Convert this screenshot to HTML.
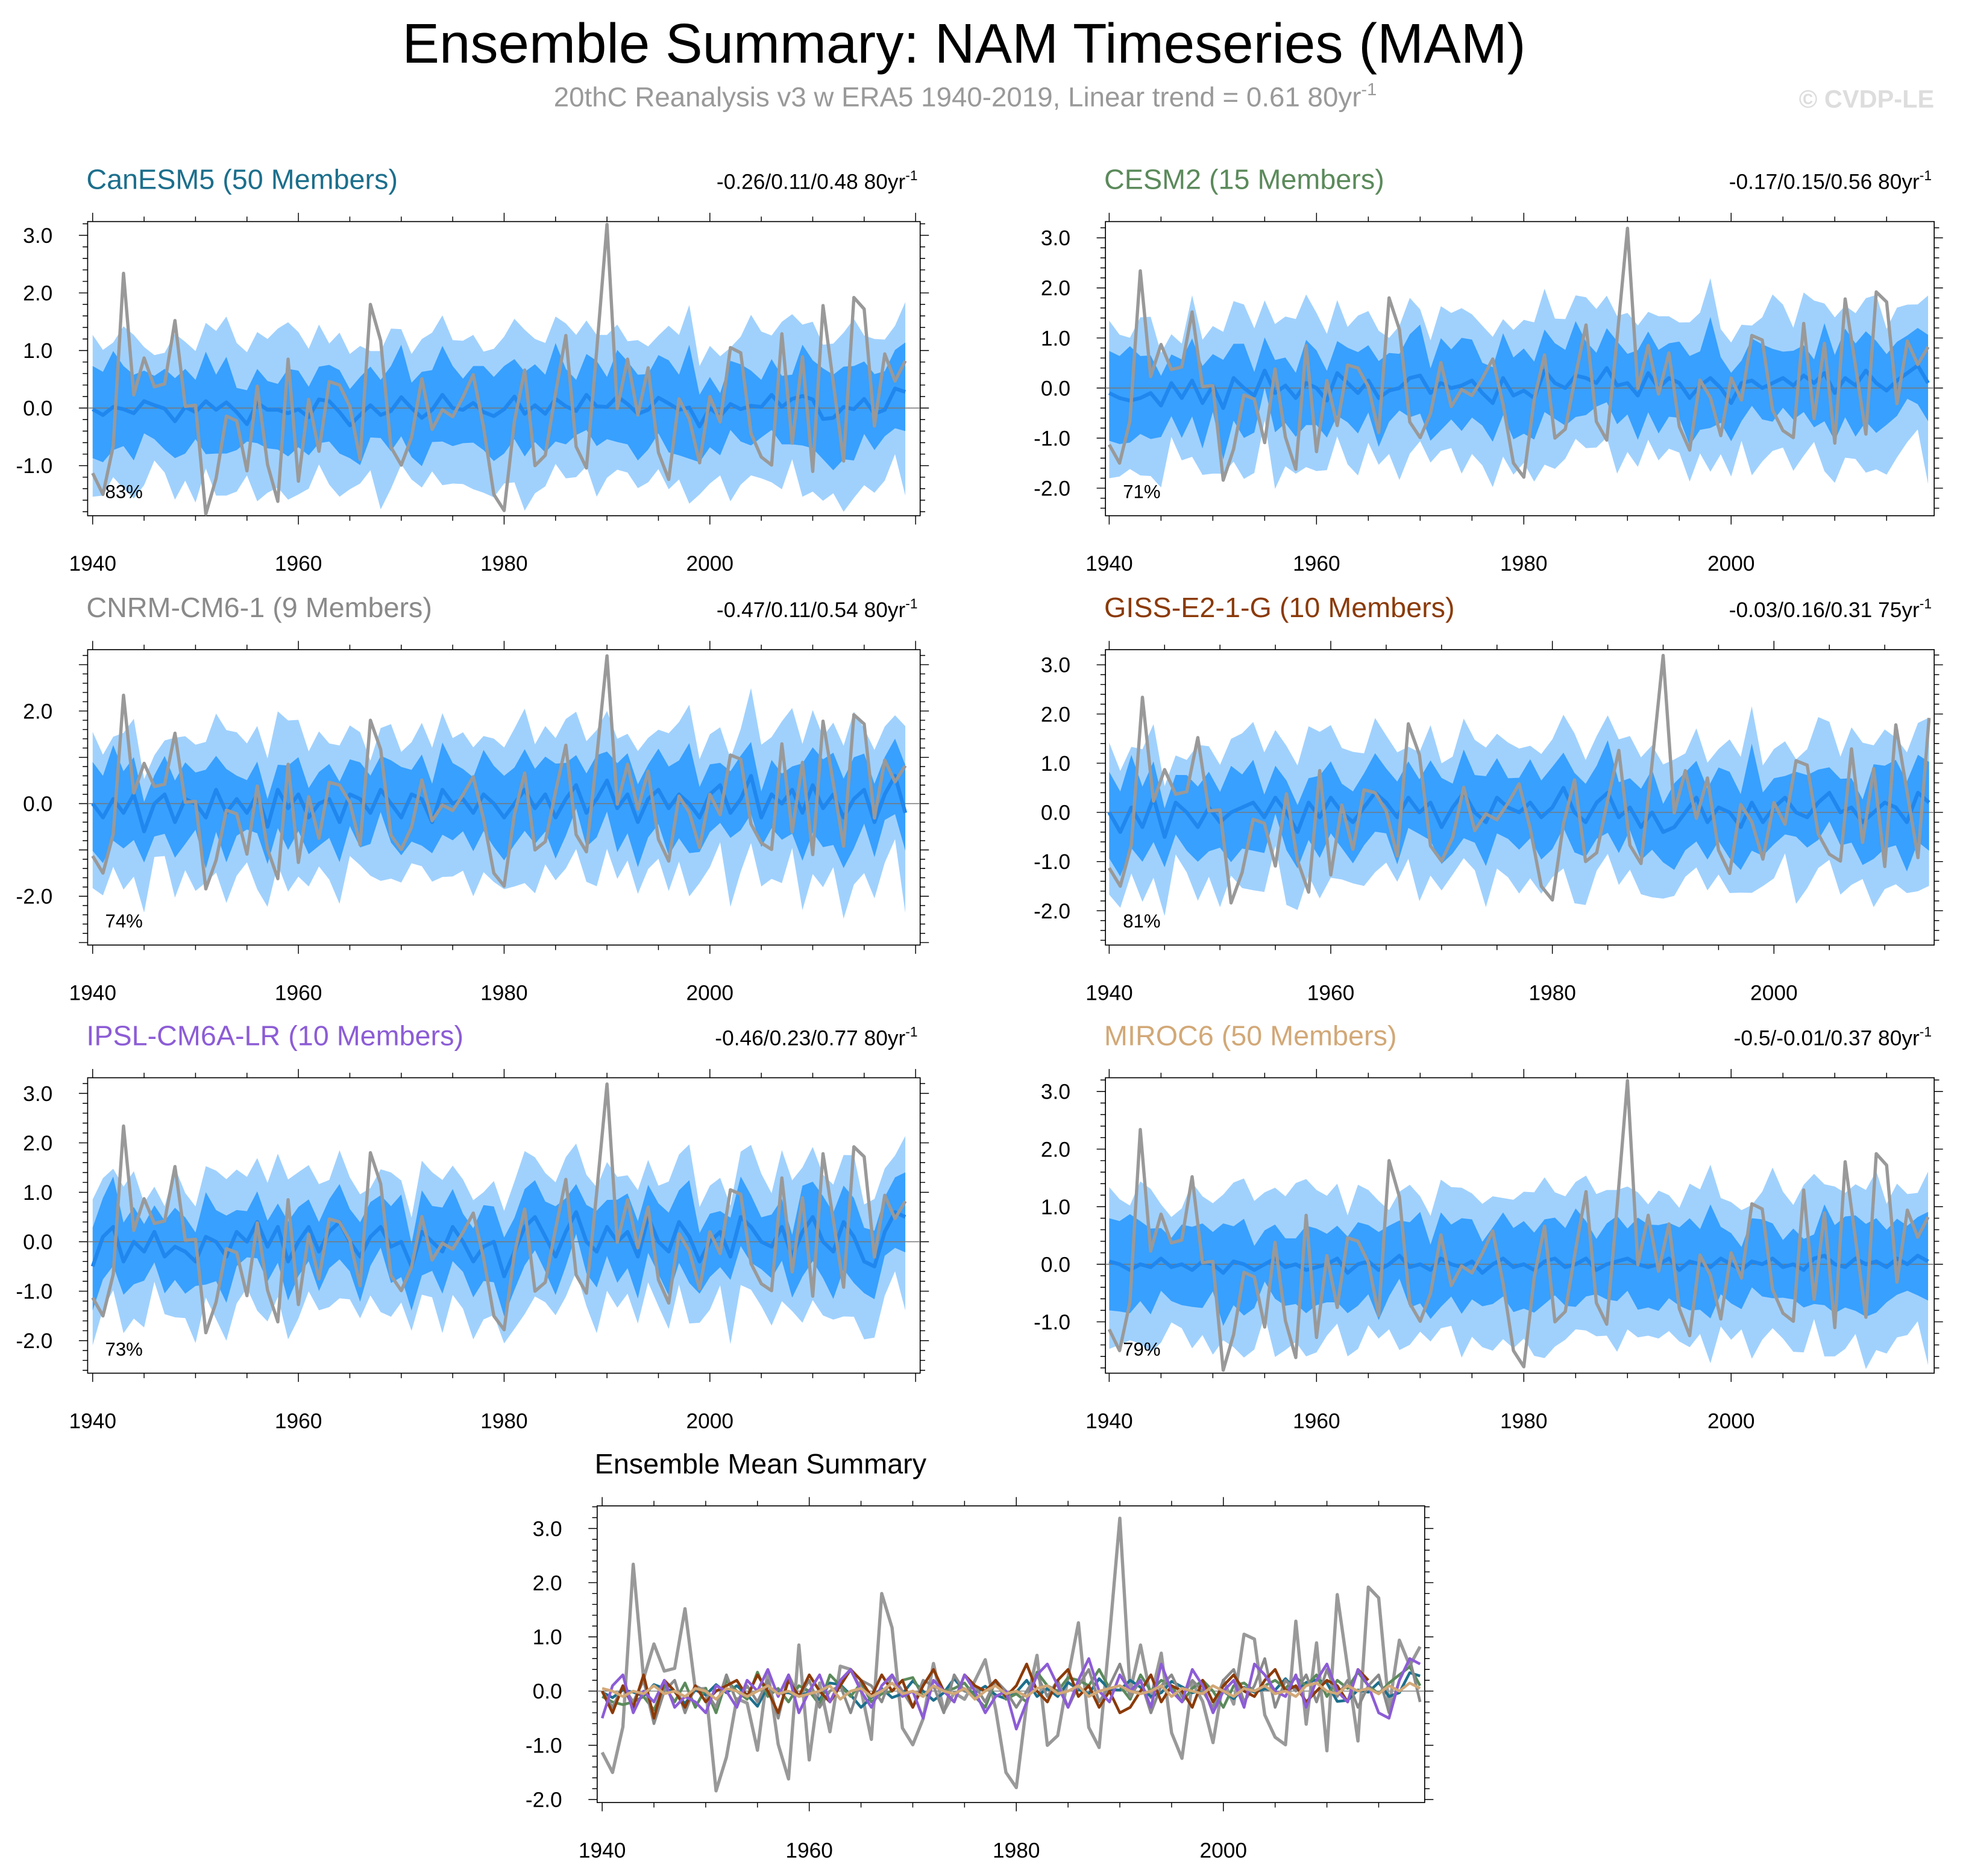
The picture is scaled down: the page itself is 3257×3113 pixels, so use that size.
<!DOCTYPE html>
<html><head><meta charset="utf-8">
<style>
html,body{margin:0;padding:0;background:#fff;}
svg{display:block;font-family:"Liberation Sans",sans-serif;}
</style></head>
<body>
<svg id="chart" width="3257" height="3113" viewBox="0 0 1568 1498.7" xmlns="http://www.w3.org/2000/svg">
<text x="770" y="50" font-size="44.5" text-anchor="middle" fill="#000">Ensemble Summary: NAM Timeseries (MAM)</text>
<text x="771" y="85" font-size="22" text-anchor="middle" fill="#999">20thC Reanalysis v3 w ERA5 1940-2019, Linear trend = 0.61 80yr<tspan dy="-9" font-size="14">-1</tspan></text>
<text x="1545" y="86" font-size="20" font-weight="bold" text-anchor="end" fill="#ddd">© CVDP-LE</text>
<text x="475" y="1177" font-size="22.5" fill="#000">Ensemble Mean Summary</text>
</svg>
<script>
const obs=[-1.13,-1.50,-0.66,2.34,0.23,0.87,0.37,0.42,1.52,0.03,0.05,-1.84,-1.22,-0.14,-0.22,-1.09,0.38,-0.98,-1.62,0.85,-1.27,0.15,-0.75,0.46,0.40,0.03,-0.89,1.80,1.17,-0.68,-0.99,-0.51,0.51,-0.37,-0.03,-0.15,0.19,0.58,-0.33,-1.50,-1.78,-0.23,0.66,-1.00,-0.82,0.26,1.26,-0.67,-1.04,1.0,3.19,-0.01,0.85,-0.12,0.70,-0.77,-1.24,0.16,-0.19,-0.95,0.20,-0.24,1.05,0.96,-0.44,-0.85,-0.99,1.29,-0.61,0.89,-1.10,1.78,0.44,-0.92,1.92,1.72,-0.31,0.94,0.47,0.82];
const canMean=[-0.02,-0.12,0.02,-0.02,-0.09,0.12,0.05,-0.01,-0.23,0.02,-0.07,0.12,-0.03,0.10,-0.07,-0.28,0.09,-0.03,-0.03,-0.09,-0.02,-0.16,0.15,0.12,-0.07,-0.30,-0.12,0.05,-0.12,-0.05,0.19,0.0,-0.17,-0.03,0.23,0.0,-0.03,0.09,-0.07,-0.14,-0.02,0.20,-0.10,0.05,-0.10,0.16,0.03,-0.05,0.23,0.03,0.02,0.20,0.07,-0.10,-0.03,0.18,0.08,-0.03,0.01,-0.32,0.0,-0.14,0.07,-0.02,0.04,0.02,0.23,0.02,0.16,0.21,0.15,-0.19,-0.17,0.02,-0.02,0.16,-0.10,-0.03,0.34,0.28];
const canLightUp=[1.27,1.01,1.14,1.42,1.27,1.06,0.92,0.96,1.29,1.15,0.99,1.48,1.34,1.59,1.13,0.97,1.32,1.20,1.38,1.49,1.32,1.03,1.45,1.12,1.31,0.94,1.08,0.99,0.99,1.38,1.37,0.94,1.20,1.31,1.61,1.18,1.17,1.27,0.98,1.03,1.24,1.55,1.36,1.20,1.13,1.59,1.47,1.27,1.52,1.27,1.27,1.45,1.16,1.18,1.07,1.26,1.43,1.27,1.79,0.73,1.08,0.90,1.05,1.24,1.62,1.33,1.26,1.50,1.63,1.45,1.50,1.10,1.12,1.31,1.55,1.26,1.20,1.19,1.43,1.84];
const canDarkUp=[0.73,0.63,0.99,0.73,0.58,0.65,0.56,0.68,0.52,0.68,0.49,0.98,0.58,0.89,0.35,0.31,0.68,0.47,0.42,0.68,0.65,0.37,0.72,0.75,0.66,0.33,0.54,0.72,0.49,0.73,1.10,0.44,0.63,0.66,1.08,0.73,0.51,0.73,0.73,0.54,0.73,0.85,0.63,0.76,0.58,1.13,0.68,0.49,0.94,0.82,0.54,1.01,0.81,0.58,0.59,0.92,0.83,0.58,1.10,0.23,0.54,0.26,0.82,0.76,0.65,0.49,0.85,0.56,0.58,1.10,0.83,0.69,0.58,0.72,0.73,0.81,0.59,0.64,1.01,1.14];
const canDarkLow=[-0.87,-0.94,-0.73,-0.66,-0.91,-0.44,-0.54,-0.72,-0.87,-0.79,-0.54,-0.80,-0.79,-0.79,-0.73,-0.58,-0.61,-0.70,-0.72,-0.84,-0.68,-0.82,-0.61,-0.58,-0.79,-0.87,-0.99,-0.51,-0.52,-0.75,-0.49,-0.85,-1.01,-0.59,-0.58,-0.66,-0.61,-0.60,-0.73,-0.92,-0.79,-0.54,-0.84,-0.59,-0.77,-0.58,-0.63,-0.47,-0.38,-0.66,-0.54,-0.59,-0.63,-0.91,-0.72,-0.44,-0.77,-0.82,-0.88,-0.94,-0.68,-0.82,-0.38,-0.58,-0.65,-0.51,-0.38,-0.63,-0.63,-0.65,-0.70,-0.89,-1.08,-0.89,-0.91,-0.45,-0.73,-0.49,-0.35,-0.40];
const canLightLow=[-1.54,-1.52,-1.20,-1.40,-1.57,-1.34,-0.91,-1.12,-1.59,-1.26,-1.64,-1.05,-1.52,-1.52,-1.45,-1.17,-1.62,-1.47,-1.38,-1.59,-1.50,-1.40,-0.98,-1.33,-1.54,-1.41,-1.31,-1.08,-1.76,-1.40,-0.98,-1.24,-1.38,-1.10,-1.34,-1.31,-1.32,-1.41,-1.47,-1.55,-1.31,-1.29,-1.78,-1.48,-1.36,-0.97,-1.22,-1.20,-1.01,-1.54,-1.21,-1.07,-1.12,-1.39,-1.29,-1.06,-1.41,-1.24,-1.66,-1.50,-1.31,-1.17,-1.62,-1.33,-1.17,-1.22,-1.29,-1.41,-0.89,-1.54,-1.45,-1.61,-1.48,-1.80,-1.56,-1.34,-1.47,-1.26,-0.80,-1.52];
const cesmMean=[-0.1,-0.2,-0.25,-0.2,-0.1,-0.35,0.1,-0.2,0.15,-0.3,0.05,-0.4,0.2,0.0,-0.15,0.35,-0.1,0.05,-0.2,0.1,0.0,-0.25,0.3,0.1,-0.1,0.15,-0.2,-0.05,0.0,0.2,0.25,-0.1,0.1,0.0,0.05,0.15,-0.1,-0.3,0.2,-0.15,-0.05,-0.2,0.35,0.1,0.0,0.25,0.2,0.1,0.4,0.05,0.1,-0.15,0.3,0.0,0.2,0.1,-0.2,0.05,0.2,0.0,-0.3,0.1,0.15,0.0,0.1,0.2,0.05,0.25,0.1,0.3,-0.1,0.2,0.05,0.35,0.1,-0.05,0.15,0.3,0.45,0.1];
const cnrmMean=[0.0,-0.3,0.1,-0.2,0.2,-0.6,0.0,0.2,-0.4,0.1,0.0,-0.3,0.3,-0.2,0.1,-0.2,0.2,-0.5,0.3,-0.1,0.2,-0.3,0.0,0.1,-0.4,0.2,0.1,-0.2,0.3,0.0,-0.3,0.2,0.1,-0.4,0.3,0.0,0.1,-0.2,0.2,0.0,-0.3,0.0,0.3,-0.1,0.2,-0.3,0.1,0.4,-0.2,0.1,0.5,-0.1,0.2,-0.4,0.1,0.3,-0.1,0.2,0.0,-0.3,0.2,0.4,-0.2,0.1,0.6,-0.3,0.2,0.0,0.3,-0.2,0.4,-0.1,0.2,-0.3,0.1,0.3,-0.4,0.2,0.6,-0.2];
const gissMean=[0.0,-0.4,0.1,-0.3,0.3,-0.5,0.2,0.0,-0.3,0.1,-0.2,0.0,0.1,0.2,-0.1,0.3,0.0,-0.4,0.2,-0.1,0.3,0.0,-0.2,0.1,0.4,0.2,-0.1,0.3,0.0,0.2,-0.3,0.1,0.4,0.0,-0.2,0.3,0.1,0.0,0.2,-0.1,0.1,0.5,0.0,-0.2,0.2,0.4,-0.1,0.1,-0.3,0.0,-0.4,-0.3,0.0,0.3,-0.2,0.1,0.0,-0.3,0.2,-0.2,0.1,0.3,0.0,-0.1,0.2,0.4,0.0,0.1,-0.2,0.0,0.2,0.1,-0.2,0.4,0.2];
const ipslMean=[-0.5,0.1,0.3,-0.4,0.0,-0.2,0.2,-0.3,-0.1,-0.2,-0.4,0.1,0.0,-0.3,0.2,0.0,0.4,-0.1,0.3,-0.4,0.0,0.3,-0.2,0.2,0.4,0.0,-0.3,0.1,0.3,-0.1,0.0,-0.5,0.2,0.0,-0.2,0.3,0.0,-0.4,-0.1,0.0,-0.7,-0.2,0.3,0.5,0.1,-0.3,0.2,0.6,0.0,-0.2,0.3,0.0,0.2,-0.3,0.5,0.0,-0.2,0.4,0.1,-0.4,0.0,0.2,-0.3,0.5,0.3,0.0,-0.1,0.3,-0.3,0.2,0.5,0.0,-0.2,0.4,0.1,-0.4,-0.5,0.2,0.6,0.5];
const mirocMean=[0.05,0.0,-0.1,0.0,-0.05,0.1,-0.05,0.0,-0.1,0.05,0.0,-0.15,0.05,0.0,-0.1,0.0,0.1,-0.05,0.0,-0.1,-0.05,0.0,0.1,-0.15,0.0,0.05,-0.1,0.0,0.15,-0.05,0.0,-0.1,0.1,0.0,-0.05,0.05,-0.15,0.0,0.1,-0.05,0.0,-0.1,0.05,0.1,-0.05,0.0,0.1,-0.1,0.0,0.05,0.1,0.0,-0.05,0.0,0.1,-0.1,0.05,0.0,-0.05,0.1,0.0,-0.1,0.05,0.0,0.1,-0.05,0.0,-0.1,0.1,0.15,0.0,-0.05,0.1,0.0,0.05,-0.05,0.1,0.0,0.15,0.05];
const startYear=1940;
const spreads=[1.0,1.12,1.2,1.1,1.05,1.0];

const NS='http://www.w3.org/2000/svg';
const svg=document.getElementById('chart');
function mk(tag,attrs,parent){const e=document.createElementNS(NS,tag);for(const k in attrs)e.setAttribute(k,attrs[k]);(parent||svg).appendChild(e);return e;}

const panels=[
 {key:'canesm5',title:'CanESM5 (50 Members)',color:'#1c6f8c',trend:'-0.26/0.11/0.48 80yr',pct:'83%',mean:canMean,spread:spreads[0],x0:70,x1:735,y0:177,y1:412,xs:74,ppy:8.217,yz:326,ppu:46,ticks:[3,2,1,0,-1]},
 {key:'cesm2',title:'CESM2 (15 Members)',color:'#5b8a5b',trend:'-0.17/0.15/0.56 80yr',pct:'71%',mean:cesmMean,spread:spreads[1],x0:883,x1:1545,y0:177,y1:412,xs:886,ppy:8.28,yz:310,ppu:40,ticks:[3,2,1,0,-1,-2]},
 {key:'cnrm-cm6-1',title:'CNRM-CM6-1 (9 Members)',color:'#8a8a8a',trend:'-0.47/0.11/0.54 80yr',pct:'74%',mean:cnrmMean,spread:spreads[2],x0:70,x1:735,y0:519,y1:755,xs:74,ppy:8.217,yz:642,ppu:37,ticks:[2,0,-2]},
 {key:'giss-e2-1-g',title:'GISS-E2-1-G (10 Members)',color:'#8b3a08',trend:'-0.03/0.16/0.31 75yr',pct:'81%',mean:gissMean,spread:spreads[3],x0:883,x1:1545,y0:519,y1:755,xs:886,ppy:8.85,yz:649,ppu:39.3,ticks:[3,2,1,0,-1,-2]},
 {key:'ipsl-cm6a-lr',title:'IPSL-CM6A-LR (10 Members)',color:'#8c5cd6',trend:'-0.46/0.23/0.77 80yr',pct:'73%',mean:ipslMean,spread:spreads[4],x0:70,x1:735,y0:861,y1:1097,xs:74,ppy:8.217,yz:992,ppu:39.5,ticks:[3,2,1,0,-1,-2]},
 {key:'miroc6',title:'MIROC6 (50 Members)',color:'#d2a877',trend:'-0.5/-0.01/0.37 80yr',pct:'79%',mean:mirocMean,spread:spreads[5],x0:883,x1:1545,y0:861,y1:1097,xs:886,ppy:8.28,yz:1010,ppu:46,ticks:[3,2,1,0,-1]}
];

function drawAxes(g,p){
 const X=yr=>p.xs+(yr-startYear)*p.ppy, Y=v=>p.yz-v*p.ppu;
 const frame=mk('rect',{x:p.x0,y:p.y0,width:p.x1-p.x0,height:p.y1-p.y0,fill:'none',stroke:'#000','stroke-width':0.8},g);
 
 
 const vmax=(p.yz-p.y0)/p.ppu, vmin=(p.yz-p.y1)/p.ppu;
 let d='';
 for(let k=Math.ceil(vmin*5);k<=Math.floor(vmax*5);k++){
  const v=k/5,y=Y(v),major=(k%5===0),L=major?7:4;
  d+=`M${p.x0},${y}h${-L}M${p.x1},${y}h${L}`;
 }
 for(let yr=startYear;X(yr)<=p.x1;yr+=5){
  const x=X(yr),major=((yr-startYear)%20===0),L=major?7:4;
  d+=`M${x},${p.y1}v${L}M${x},${p.y0}v${-L}`;
 }
 const tk=mk('path',{d:d,stroke:'#000','stroke-width':0.7,fill:'none'},g);
 
 
 p.ticks.forEach(v=>{
  const t=mk('text',{x:p.x0-28,y:Y(v)+6,'font-size':17,'text-anchor':'end'},g);
  t.textContent=v.toFixed(1);
  
  
 });
 for(let yr=startYear;X(yr)<=p.x1-15;yr+=20){
  const t=mk('text',{x:X(yr),y:p.y1+44,'font-size':17,'text-anchor':'middle'},g);
  t.textContent=yr;
  
  
 }
 const zl=mk('line',{x1:p.x0,x2:p.x1,y1:Y(0),y2:Y(0),stroke:'#777','stroke-width':0.7},g);
 
 
 return {X,Y};
}
function linePath(arr,X,Y){return arr.map((v,i)=>(i?'L':'M')+X(startYear+i).toFixed(2)+','+Y(v).toFixed(2)).join('');}

panels.forEach(p=>{
 const g=mk('g',{});
 
 
 const n=p.mean.length;
 const X=yr=>p.xs+(yr-startYear)*p.ppy, Y=v=>p.yz-v*p.ppu;
 const band=(arr)=>p.mean.map((m,i)=>m+(arr[i]-canMean[i])*p.spread);
 const lu=band(canLightUp),du=band(canDarkUp),dl=band(canDarkLow),ll=band(canLightLow);
 const poly=(up,lo)=>{let s='';for(let i=0;i<n;i++)s+=(i?'L':'M')+X(startYear+i).toFixed(2)+','+Y(up[i]).toFixed(2);for(let i=n-1;i>=0;i--)s+='L'+X(startYear+i).toFixed(2)+','+Y(lo[i]).toFixed(2);return s+'Z';};
 const b1=mk('path',{d:poly(lu,ll),fill:'#a0d1fd'},g);
 
 
 const b2=mk('path',{d:poly(du,dl),fill:'#38a0fe'},g);
 
 
 drawAxes(g,p);
 const ml=mk('path',{d:linePath(p.mean,X,Y),stroke:'#1f87ee','stroke-width':3,fill:'none','stroke-linejoin':'round'},g);
 
 
 const ol=mk('path',{d:linePath(obs.slice(0,n),X,Y),stroke:'#999','stroke-width':2.6,fill:'none','stroke-linejoin':'round'},g);
 
 
 const tt=mk('text',{x:p.x0-1,y:p.y0-26,'font-size':22.5,fill:p.color},g);
 tt.textContent=p.title;
 
 
 const tr=mk('text',{x:p.x1-2,y:p.y0-26,'font-size':17,'text-anchor':'end'},g);
 tr.textContent=p.trend;
 const sup=mk('tspan',{dy:-7,'font-size':11},tr);
 sup.textContent='-1';
 
 
 const pc=mk('text',{x:p.x0+14,y:p.y1-14,'font-size':15},g);
 pc.textContent=p.pct;
 
 
});

// ensemble mean summary
const s={x0:477,x1:1138,y0:1203,y1:1440,xs:481,ppy:8.27,yz:1351,ppu:43.3,ticks:[3,2,1,0,-1,-2]};
const gs=mk('g',{});


const ax=drawAxes(gs,s);
const ol=mk('path',{d:linePath(obs,ax.X,ax.Y),stroke:'#999','stroke-width':2.6,fill:'none','stroke-linejoin':'round'},gs);


panels.forEach(p=>{
 const l=mk('path',{d:linePath(p.mean,ax.X,ax.Y),stroke:p.color,'stroke-width':2.2,fill:'none','stroke-linejoin':'round'},gs);
 
 
});
</script>
</body></html>
